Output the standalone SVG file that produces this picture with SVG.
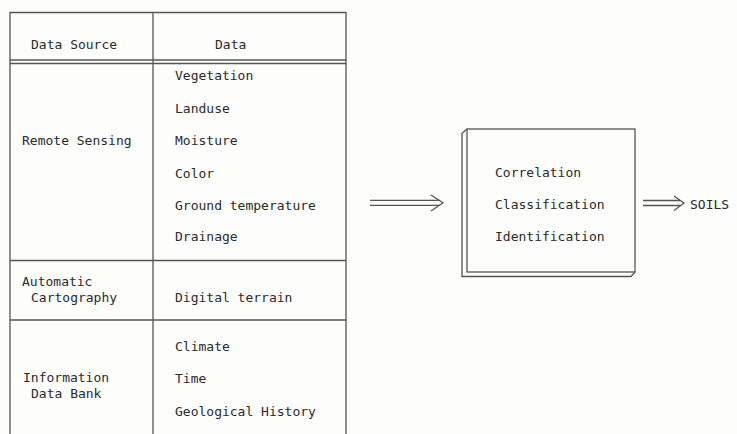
<svg xmlns="http://www.w3.org/2000/svg" width="737" height="434" viewBox="0 0 737 434">
<style>
text{font-family:"DejaVu Sans Mono","Liberation Mono",monospace;font-size:13px;fill:#2a2a2a}
.ln{stroke:#555;stroke-width:1.3;fill:none}
</style>
<rect width="737" height="434" fill="#fdfdfc"/>
<g id="table">
<path class="ln" d="M10,434V12.5H346V434M153,12.5V434M10,60H346M10,63.5H346M10,260.5H346M10,320H346"/>
<text x="31" y="49">Data Source</text>
<text x="215" y="49">Data</text>
</g>
<g id="remote-sensing">
<text x="22" y="145">Remote Sensing</text>
<text x="175" y="80">Vegetation</text>
<text x="175" y="112.5">Landuse</text>
<text x="175" y="145">Moisture</text>
<text x="175" y="177.5">Color</text>
<text x="175" y="209.5">Ground temperature</text>
<text x="175" y="241">Drainage</text>
</g>
<g id="automatic-cartography">
<text x="22" y="286">Automatic</text>
<text x="31" y="301.5">Cartography</text>
<text x="175" y="301.5">Digital terrain</text>
</g>
<g id="information-data-bank">
<text x="23" y="382">Information</text>
<text x="31" y="398">Data Bank</text>
<text x="175" y="351">Climate</text>
<text x="175" y="383">Time</text>
<text x="175" y="415.5">Geological History</text>
</g>
<g id="process-box">
<rect class="ln" x="467" y="129" width="168" height="143"/>
<path class="ln" d="M467,129L462,133.5V276.5H631L635,272"/>
<text x="495" y="177">Correlation</text>
<text x="495" y="209">Classification</text>
<text x="495" y="241">Identification</text>
</g>
<g id="soils">
<text x="690" y="209">SOILS</text>
</g>
<g id="connectors">
<path class="ln" d="M370,200.3H440M370,205.3H440M431,195L443,202.8L431,211"/>
<path class="ln" d="M643,200.5H680M643,205.5H680M674,196L684,203L674,210.5"/>
</g>
</svg>
